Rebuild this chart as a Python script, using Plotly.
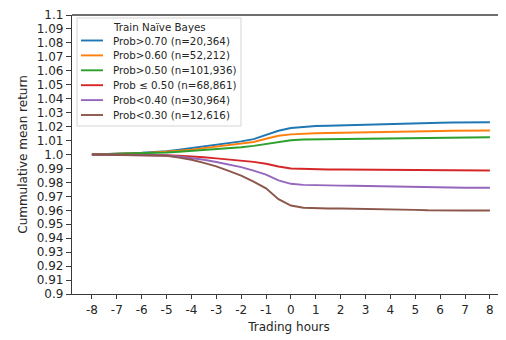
import plotly.graph_objects as go

# ---------------- data ----------------
hours = [-8, -7.5, -7, -6.5, -6, -5.5, -5, -4.5, -4, -3.5, -3, -2.5, -2, -1.5, -1, -0.5,
         0, 0.5, 1, 1.5, 2, 2.5, 3, 3.5, 4, 4.5, 5, 5.5, 6, 6.5, 7, 7.5, 8]

prob_gt_070 = [1.0000, 1.0005, 1.0008, 1.0010, 1.0013, 1.0018, 1.0024, 1.0034, 1.0045, 1.0058,
               1.0071, 1.0082, 1.0094, 1.0110, 1.0140, 1.0170, 1.0190, 1.0199, 1.0204, 1.0206,
               1.0209, 1.0211, 1.0214, 1.0217, 1.0219, 1.0222, 1.0224, 1.0226, 1.0228, 1.0229,
               1.0230, 1.0231, 1.0231]
prob_gt_060 = [1.0000, 1.0004, 1.0006, 1.0008, 1.0010, 1.0014, 1.0019, 1.0027, 1.0035, 1.0046,
               1.0057, 1.0066, 1.0075, 1.0090, 1.0113, 1.0134, 1.0144, 1.0150, 1.0152, 1.0154,
               1.0155, 1.0156, 1.0158, 1.0160, 1.0161, 1.0163, 1.0165, 1.0167, 1.0168, 1.0170,
               1.0171, 1.0172, 1.0172]
prob_gt_050 = [1.0000, 1.0002, 1.0004, 1.0005, 1.0007, 1.0010, 1.0014, 1.0020, 1.0026, 1.0032,
               1.0038, 1.0045, 1.0052, 1.0062, 1.0075, 1.0087, 1.0102, 1.0108, 1.0109, 1.0110,
               1.0111, 1.0112, 1.0113, 1.0115, 1.0116, 1.0117, 1.0119, 1.0120, 1.0121, 1.0122,
               1.0123, 1.0123, 1.0124]
prob_le_050 = [1.0000, 1.0000, 0.9999, 0.9998, 0.9998, 0.9997, 0.9995, 0.9992, 0.9988, 0.9980,
               0.9972, 0.9965, 0.9958, 0.9947, 0.9934, 0.9914, 0.9900, 0.9896, 0.9894, 0.9893,
               0.9892, 0.9891, 0.9890, 0.9889, 0.9888, 0.9888, 0.9887, 0.9886, 0.9886, 0.9885,
               0.9885, 0.9885, 0.9885]
prob_lt_040 = [1.0000, 0.9999, 0.9998, 0.9998, 0.9997, 0.9995, 0.9993, 0.9986, 0.9976, 0.9962,
               0.9946, 0.9929, 0.9910, 0.9885, 0.9856, 0.9814, 0.9790, 0.9782, 0.9779, 0.9778,
               0.9777, 0.9776, 0.9774, 0.9772, 0.9771, 0.9769, 0.9767, 0.9765, 0.9763, 0.9762,
               0.9762, 0.9762, 0.9762]
prob_lt_030 = [1.0000, 0.9999, 0.9998, 0.9997, 0.9996, 0.9994, 0.9991, 0.9978, 0.9962, 0.9940,
               0.9915, 0.9883, 0.9849, 0.9805, 0.9757, 0.9680, 0.9634, 0.9618, 0.9614, 0.9613,
               0.9613, 0.9612, 0.9611, 0.9610, 0.9608, 0.9606, 0.9603, 0.9600, 0.9598, 0.9598,
               0.9599, 0.9599, 0.9599]

series_names = ["Prob>0.70 (n=20,364)", "Prob>0.60 (n=52,212)", "Prob>0.50 (n=101,936)",
                "Prob \u2264 0.50 (n=68,861)", "Prob<0.40 (n=30,964)", "Prob<0.30 (n=12,616)"]
series_values = [prob_gt_070, prob_gt_060, prob_gt_050, prob_le_050, prob_lt_040, prob_lt_030]
colors = ["#1f77b4", "#ff7f0e", "#2ca02c", "#d62728", "#9467bd", "#8c564b"]

legend_title = "Train Na\u00efve Bayes"
x_ticks = list(range(-8, 9))
y_ticks = [round(0.9 + 0.01 * i, 2) for i in range(21)]
y_ticktext = ["0.9"] + [f"{v:.2f}" for v in y_ticks[1:10]] + ["1.0"] + [f"{v:.2f}" for v in y_ticks[11:20]] + ["1.1"]

# ---------------- geometry ----------------
# page body has an 8px margin, so the figure is drawn 8px right/down
OFF = 8
W, H = 498, 332
ML, MR, MT, MB = 64, 0, 7, 46
PW, PH = W - ML - MR, H - MT - MB


def px(xp):  # page pixel -> paper x
    return (xp - OFF - ML) / PW


def py(yp):  # page pixel -> paper y
    return (H - MB - (yp - OFF)) / PH


FONT = "DejaVu Sans"
TXT = "#262626"
AX = "#3a3a3a"

fig = go.Figure()
for name, vals, c in zip(series_names, series_values, colors):
    fig.add_trace(go.Scatter(x=hours, y=vals, mode="lines", name=name,
                             line=dict(color=c, width=1.9), showlegend=False))

fig.update_layout(
    width=W, height=H,
    margin=dict(l=ML, r=MR, t=MT, b=MB, pad=0),
    paper_bgcolor="white", plot_bgcolor="white",
    font=dict(family=FONT, size=12, color=TXT),
    xaxis=dict(range=[-8.8, 8.647], tickmode="array", tickvals=x_ticks,
               ticktext=[str(v) for v in x_ticks], automargin=False,
               showgrid=False, zeroline=False, showline=True, mirror=False,
               linecolor=AX, linewidth=1.3, ticks="outside", ticklen=4,
               tickcolor=AX, tickwidth=1, tickfont=dict(size=12),
               ticklabeloverflow="allow",
               title=dict(text="Trading hours", standoff=7,
                          font=dict(size=12, color=TXT))),
    yaxis=dict(range=[0.9, 1.1], tickmode="array", tickvals=y_ticks,
               ticktext=y_ticktext, automargin=False,
               showgrid=False, zeroline=False, showline=True, mirror=False,
               linecolor=AX, linewidth=1.3, ticks="outside", ticklen=5,
               tickcolor=AX, tickwidth=1, tickfont=dict(size=12),
               ticklabeloverflow="allow",
               title=dict(text="Cummulative mean return", standoff=6,
                          font=dict(size=12, color=TXT))),
)

# ---------------- top spine + legend (drawn box) ----------------
shapes = [dict(type="line", xref="paper", yref="paper", x0=0, x1=1,
               y0=1, y1=1, line=dict(color="#6e6e6e", width=1.8), layer="above"),
          dict(type="rect", xref="paper", yref="paper",
               x0=px(77), x1=px(241), y0=py(126), y1=py(18),
               line=dict(color="#d4d4d4", width=1), fillcolor="rgba(255,255,255,0.85)",
               layer="above")]
annotations = [dict(xref="paper", yref="paper", x=px(159), y=py(26.5), text=legend_title,
                    showarrow=False, xanchor="center", yanchor="middle",
                    font=dict(family=FONT, size=10.3, color=TXT))]
for i, (name, c) in enumerate(zip(series_names, colors)):
    yy = 40.5 + 14.9 * i
    shapes.append(dict(type="line", xref="paper", yref="paper",
                       x0=px(81), x1=px(103), y0=py(yy), y1=py(yy),
                       line=dict(color=c, width=1.9), layer="above"))
    annotations.append(dict(xref="paper", yref="paper", x=px(111), y=py(yy), text=name,
                            showarrow=False, xanchor="left", yanchor="middle",
                            font=dict(family=FONT, size=10.3, color=TXT)))
fig.update_layout(shapes=shapes, annotations=annotations)

fig.write_html("out.html")
